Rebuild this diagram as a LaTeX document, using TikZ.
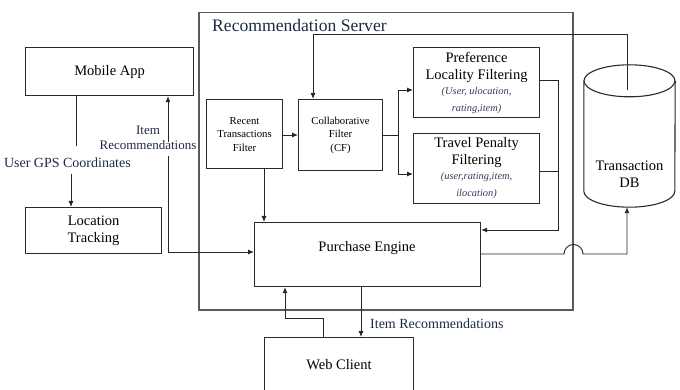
\documentclass[tikz,border=0pt]{standalone}
\usepackage{fontspec}
\setmainfont{Liberation Serif}
\usetikzlibrary{arrows.meta,calc}
\definecolor{boxc}{HTML}{2A2A2A}
\definecolor{srvc}{HTML}{5A5A5A}
\definecolor{navy}{HTML}{1E2B45}
\definecolor{parc}{HTML}{2F3D5C}
\newcommand\parfont{\fontsize{10.4}{14}\selectfont\itshape\color{parc}}
\begin{document}
\begin{tikzpicture}[x=1pt,y=-1pt,
  box/.style={draw=boxc,line width=1.1pt,inner sep=0pt,align=center,anchor=north west},
  conn/.style={draw=black!85,line width=0.9pt},
  arr/.style={conn,-{Latex[length=6pt,width=5pt]}},
  main/.style={font=\fontsize{14.5}{17}\selectfont},
  small/.style={font=\fontsize{10.7}{13.5}\selectfont},
  lbl/.style={font=\fontsize{13}{15}\selectfont,text=navy,inner sep=0pt,align=center}]
\useasboundingbox (0,0) rectangle (680,390);

% server frame
\node[draw=srvc,line width=1.5pt,anchor=north west,minimum width=374pt,minimum height=297pt,inner sep=0pt] (srv) at (198,12) {};
\node[anchor=west,inner sep=0pt,text=navy,font=\fontsize{17.6}{20}\selectfont] (srvt) at (212,25) {Recommendation Server};

% nodes
\node[box,main,minimum width=168pt,minimum height=48pt] (mob) at (25,47) {Mobile App};
\node[box,main,minimum width=136pt,minimum height=46pt] (loc) at (25,207) {Location\\Tracking};
\node[box,small,minimum width=76pt,minimum height=69pt] (rtf) at (206,99) {Recent\\Transactions\\Filter};
\node[box,small,minimum width=84pt,minimum height=71pt] (cf) at (298,99) {Collaborative\\Filter\\(CF)};
\node[box,main,minimum width=126pt,minimum height=70pt] (pref) at (413,47) {Preference\\Locality Filtering\\[-2pt]\parfont (User, ulocation,\\\parfont rating,item)};
\node[box,main,minimum width=126pt,minimum height=70pt] (trav) at (413,133) {Travel Penalty\\Filtering\\[-2pt]\parfont (user,rating,item,\\\parfont ilocation)};
\node[box,minimum width=226pt,minimum height=64pt] (pe) at (254,222) {};
\node[main,inner sep=0pt] (petxt) at (367,248) {Purchase Engine};
\node[box,main,minimum width=149pt,minimum height=54pt] (web) at (264,337) {Web Client};

% database cylinder
\node[minimum width=91pt,minimum height=142pt,inner sep=0pt] (db) at (629.5,136) {};
\draw[draw=boxc,line width=1.1pt]
  ([yshift=-16pt]db.north west) -- ([yshift=16pt]db.south west)
  arc[start angle=180,end angle=360,x radius=45.5pt,y radius=16pt]
  -- ([yshift=-16pt]db.north east);
\draw[draw=boxc,line width=1.1pt] ([yshift=-16pt]db.north) ellipse[x radius=45.5pt,y radius=16pt];
\node[main,align=center,inner sep=0pt] (dbtxt) at (629.5,174) {Transaction\\DB};

% labels
\node[lbl,anchor=east,font=\fontsize{14}{16}\selectfont] (gps) at (131,163) {User GPS Coordinates};
\node[lbl] (irl) at (148,138) {Item\\Recommendations};
\node[lbl,anchor=west,font=\fontsize{14}{16}\selectfont] (irb) at (370,324) {Item Recommendations};

% helper coordinates
\coordinate (g1) at (76,146);
\coordinate (g2) at (71,174);
\coordinate (i1) at (168,142);
\coordinate (i2) at (168,156);
\coordinate (ipe) at (168,252);
\coordinate (xr) at (264,0);
\coordinate (sp) at (398,135);
\coordinate (ya) at (0,90);
\coordinate (yb) at (0,174);
\coordinate (yp) at (0,80);
\coordinate (yt) at (0,171);
\coordinate (rb) at (558,230);
\coordinate (dbin) at (627,90);
\coordinate (ct) at (313,34);
\coordinate (pe1) at (480,254);
\coordinate (j1) at (564,254);
\coordinate (j2) at (583,254);
\coordinate (jd) at (627,254);
\coordinate (xw) at (361,0);
\coordinate (xu) at (323,0);
\coordinate (wb) at (285,318);

% connectors
\draw[conn] (mob.south -| g1) -- (g1);
\draw[arr] (g2) -- (loc.north -| g2);
\draw[arr] (i1) -- (mob.south -| i1);
\draw[arr] (i2) -- (ipe) -- (pe.west |- ipe);
\draw[arr] (rtf.south -| xr) -- (pe.north -| xr);
\draw[arr] (rtf.east |- sp) -- (cf.west |- sp);
\draw[conn] (cf.east |- sp) -- (sp);
\draw[arr] (sp) |- (pref.west |- ya);
\draw[arr] (sp) |- (trav.west |- yb);
\draw[arr] (pref.east |- yp) -| (rb) -- (pe.east |- rb);
\draw[conn] (trav.east |- yt) -- (rb |- yt);
\draw[arr] (dbin) |- (ct) -- (cf.north -| ct);
\draw[arr] (pe1) -- (j1) arc[start angle=180,end angle=0,radius=9.5pt] -- (jd) -- (db.south -| jd);
\draw[arr] (pe.south -| xw) -- (web.north -| xw);
\draw[arr] (web.north -| xu) |- (wb) -- (pe.south -| wb);
\end{tikzpicture}
\end{document}
